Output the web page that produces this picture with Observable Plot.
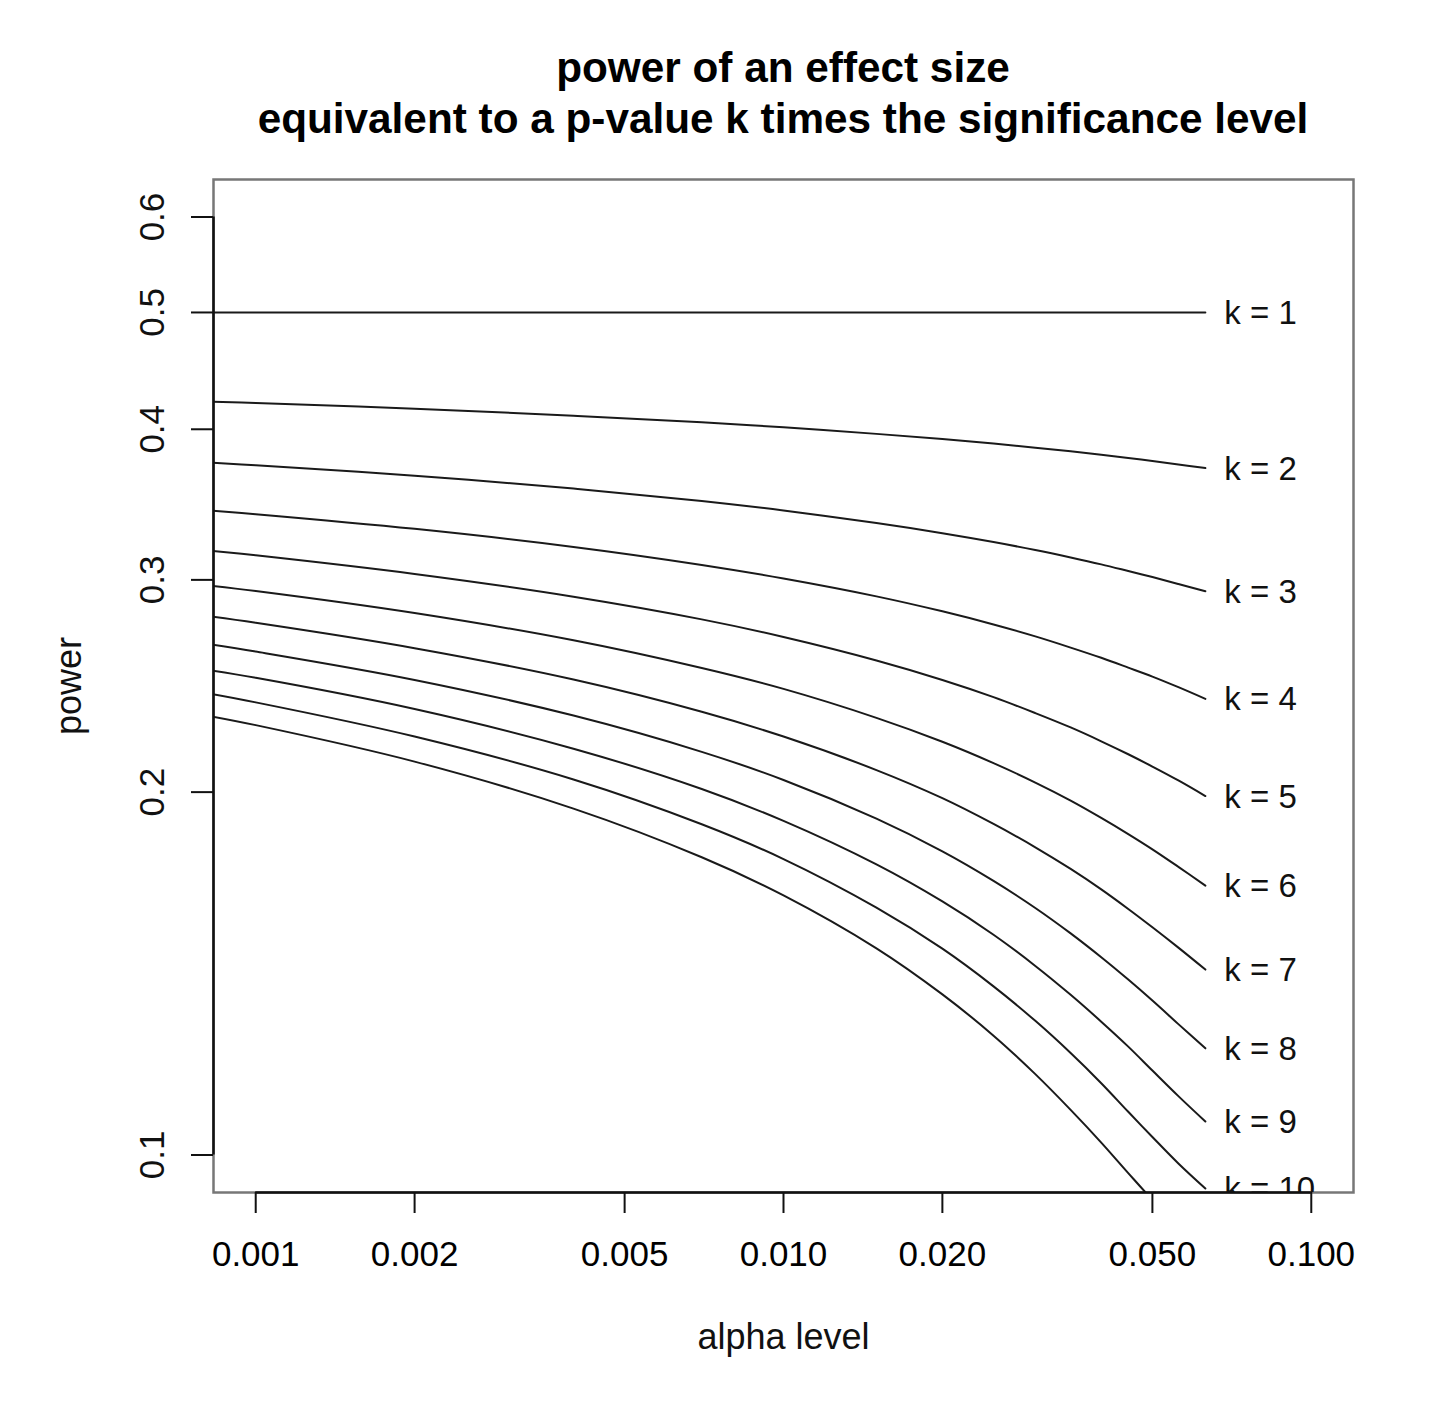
<!DOCTYPE html>
<html>
<head>
<meta charset="utf-8">
<script src="https://cdn.jsdelivr.net/npm/d3@7"></script>
<script src="https://cdn.jsdelivr.net/npm/@observablehq/plot@0.6"></script>
<style>
  body { margin: 0; background: #fff; }
  #wrap { position: relative; width: 1440px; height: 1419px; background: #fff;
          font-family: "Liberation Sans", Arial, Helvetica, sans-serif; }
  #title { position: absolute; left: 213px; width: 1140px; top: 42px; text-align: center;
           font-weight: bold; font-size: 42.3px; line-height: 51px; color: #000; white-space: nowrap; }
  #chart { position: absolute; left: 0; top: 150px; }
</style>
</head>
<body>
<div id="wrap">
  <div id="title">power of an effect size<br>equivalent to a p-value k times the significance level</div>
  <div id="chart"></div>
</div>
<script>
// alpha levels (x) at which the power curves were read
const alpha = [0.0008, 0.001, 0.002, 0.004, 0.007, 0.01, 0.015, 0.02, 0.025, 0.03, 0.035, 0.04, 0.045, 0.05, 0.056, 0.063];
const kValues = [1, 2, 3, 4, 5, 6, 7, 8, 9, 10, 11];
// power for each k, one value per alpha
const powerK1  = [0.5, 0.5, 0.5, 0.5, 0.5, 0.5, 0.5, 0.5, 0.5, 0.5, 0.5, 0.5, 0.5, 0.5, 0.5, 0.5];
const powerK2  = [0.4219, 0.4206, 0.4160, 0.4105, 0.4054, 0.4015, 0.3965, 0.3926, 0.3892, 0.3862, 0.3835, 0.3810, 0.3787, 0.3765, 0.3740, 0.3714];
const powerK3  = [0.3756, 0.3734, 0.3661, 0.3572, 0.3488, 0.3425, 0.3344, 0.3280, 0.3225, 0.3176, 0.3131, 0.3090, 0.3051, 0.3016, 0.2976, 0.2935];
const powerK4  = [0.3428, 0.3401, 0.3307, 0.3195, 0.3087, 0.3008, 0.2907, 0.2825, 0.2755, 0.2693, 0.2636, 0.2585, 0.2537, 0.2494, 0.2444, 0.2390];
const powerK5  = [0.3176, 0.3144, 0.3034, 0.2905, 0.2782, 0.2690, 0.2572, 0.2478, 0.2398, 0.2326, 0.2263, 0.2204, 0.2150, 0.2100, 0.2045, 0.1985];
const powerK6  = [0.2971, 0.2937, 0.2816, 0.2673, 0.2535, 0.2436, 0.2305, 0.2202, 0.2114, 0.2037, 0.1968, 0.1904, 0.1846, 0.1793, 0.1734, 0.1673];
const powerK7  = [0.2802, 0.2764, 0.2633, 0.2480, 0.2332, 0.2224, 0.2086, 0.1977, 0.1882, 0.1800, 0.1727, 0.1661, 0.1600, 0.1545, 0.1486, 0.1425];
const powerK8  = [0.2657, 0.2616, 0.2478, 0.2315, 0.2160, 0.2047, 0.1901, 0.1786, 0.1688, 0.1603, 0.1527, 0.1459, 0.1398, 0.1343, 0.1284, 0.1226];
const powerK9  = [0.2528, 0.2488, 0.2344, 0.2173, 0.2012, 0.1893, 0.1742, 0.1623, 0.1523, 0.1435, 0.1358, 0.1290, 0.1230, 0.1175, 0.1119, 0.1066];
const powerK10 = [0.2418, 0.2374, 0.2224, 0.2049, 0.1881, 0.1760, 0.1604, 0.1483, 0.1380, 0.1292, 0.1215, 0.1147, 0.1086, 0.1035, 0.0984, 0.0938];
const powerK11 = [0.2317, 0.2273, 0.2120, 0.1938, 0.1766, 0.1642, 0.1484, 0.1359, 0.1256, 0.1167, 0.1090, 0.1024, 0.0966, 0.0918, 0.0873, 0.0836];

const xTicks = [0.001, 0.002, 0.005, 0.01, 0.02, 0.05, 0.1];
const xTickLabels = ["0.001", "0.002", "0.005", "0.010", "0.020", "0.050", "0.100"];
const yTicks = [0.1, 0.2, 0.3, 0.4, 0.5, 0.6];
const yTickLabels = ["0.1", "0.2", "0.3", "0.4", "0.5", "0.6"];

const powerSeries = [powerK1, powerK2, powerK3, powerK4, powerK5, powerK6, powerK7, powerK8, powerK9, powerK10, powerK11];
const rows = [];
kValues.forEach((k, j) => alpha.forEach((a, i) => rows.push({k, alpha: a, power: powerSeries[j][i]})));
const labelRows = kValues.map((k, j) => ({k, alpha: alpha[alpha.length - 1], power: powerSeries[j][alpha.length - 1], label: `k = ${k}`}));

// R-style axis extents: data range extended 4% on each side (log scale)
const lx0 = Math.log10(xTicks[0]), lx1 = Math.log10(xTicks[xTicks.length - 1]);
const ly0 = Math.log10(yTicks[0]), ly1 = Math.log10(yTicks[yTicks.length - 1]);
const xDomain = [10 ** (lx0 - 0.04 * (lx1 - lx0)), 10 ** (lx1 + 0.04 * (lx1 - lx0))];
const yDomain = [10 ** (ly0 - 0.04 * (ly1 - ly0)), 10 ** (ly1 + 0.04 * (ly1 - ly0))];

const fs = 35;
const chart = Plot.plot({
  width: 1440,
  height: 1269,
  marginTop: 29,
  marginBottom: 227,
  marginLeft: 213,
  marginRight: 87,
  style: {fontFamily: '"Liberation Sans", Arial, Helvetica, sans-serif', fontSize: fs + "px", color: "#000", background: "#fff"},
  x: {type: "log", domain: xDomain},
  y: {type: "log", domain: yDomain},
  marks: [
    Plot.frame({stroke: "#777", strokeWidth: 2.5}),
    Plot.line(rows, {x: "alpha", y: "power", z: "k", stroke: "#1a1a1a", strokeWidth: 2, curve: "catmull-rom", clip: true}),
    Plot.ruleX([xDomain[0]], {y1: yTicks[0], y2: yTicks[yTicks.length - 1], stroke: "#111", strokeWidth: 2.5}),
    Plot.ruleY([yDomain[0]], {x1: xTicks[0], x2: xTicks[xTicks.length - 1], stroke: "#111", strokeWidth: 2.5}),
    Plot.axisX({ticks: xTicks, tickFormat: d => xTickLabels[xTicks.indexOf(d)], tickSize: 21, tickPadding: 28,
                fontSize: fs, label: null, strokeWidth: 2, stroke: "#111"}),
    Plot.axisY({ticks: yTicks, tickSize: 22, fill: "none", label: null, strokeWidth: 2, stroke: "#111"}),
    Plot.text(yTicks, {y: d => d, text: d => yTickLabels[yTicks.indexOf(d)], frameAnchor: "left", dx: -50,
                       rotate: -90, textAnchor: "middle", lineAnchor: "bottom", fontSize: fs, fill: "#111"}),
    Plot.text(["power"], {frameAnchor: "left", dx: -133, rotate: -90, textAnchor: "middle", lineAnchor: "bottom", fontSize: 36, fill: "#111"}),
    Plot.text(["alpha level"], {frameAnchor: "bottom", dy: 156, textAnchor: "middle", lineAnchor: "bottom", fontSize: 36, fill: "#111"}),
    Plot.text(labelRows, {x: "alpha", y: "power", text: "label", dx: 19, dy: 1, textAnchor: "start", lineAnchor: "middle",
                          fontSize: 33, fill: "#111", clip: true})
  ]
});
document.getElementById("chart").appendChild(chart);
</script>
</body>
</html>
